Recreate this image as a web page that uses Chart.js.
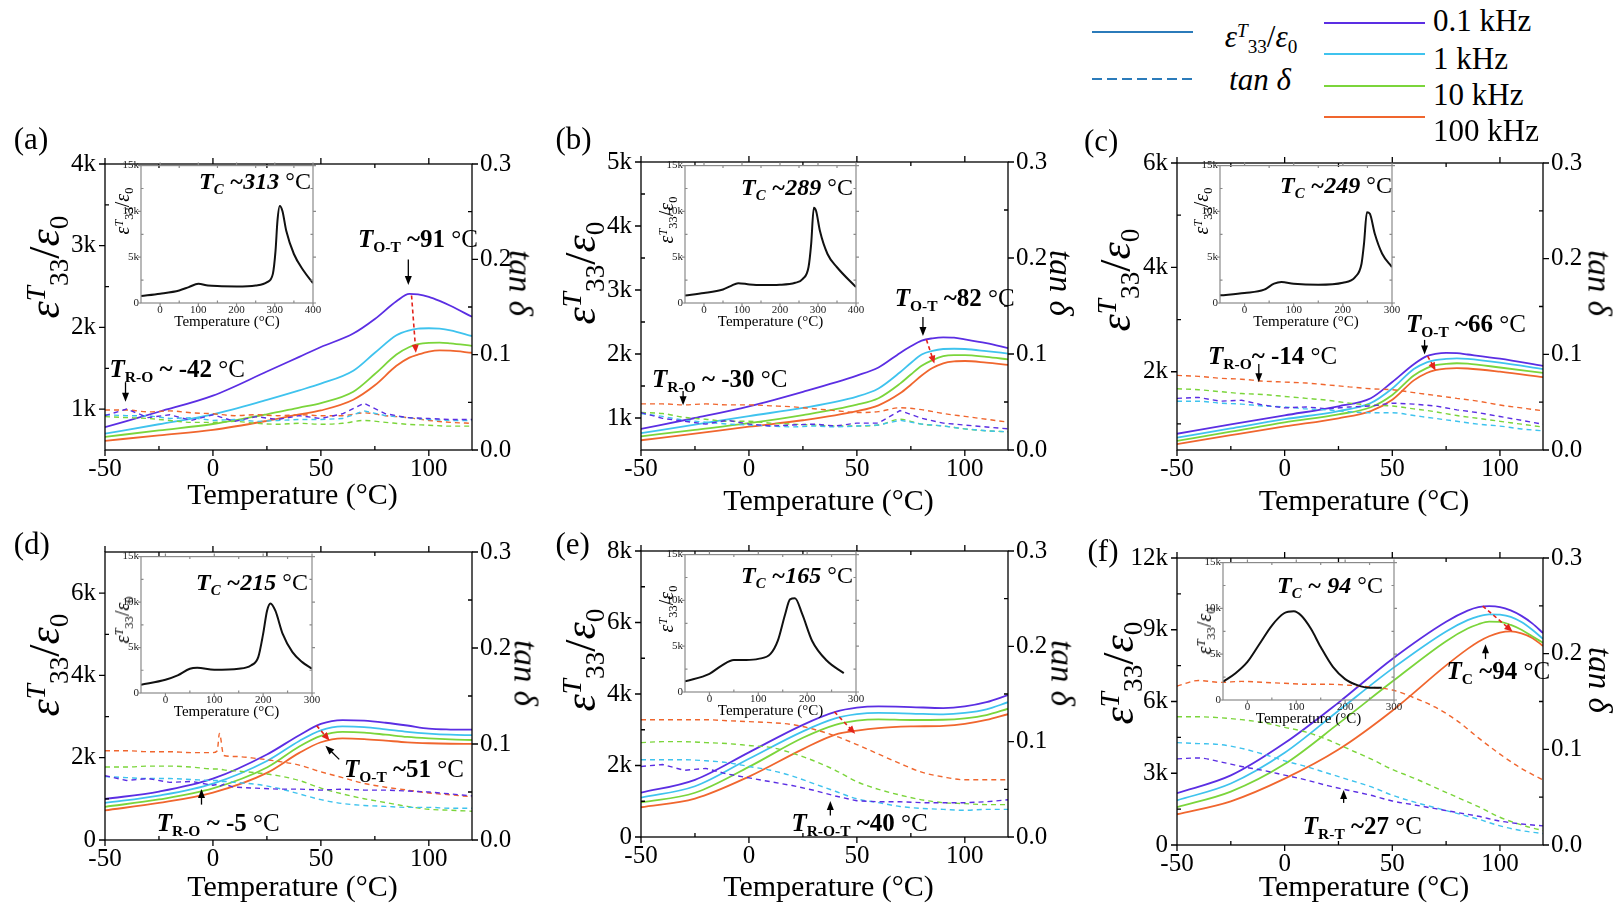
<!DOCTYPE html>
<html lang="en">
<head>
<meta charset="UTF-8">
<title>Dielectric permittivity and loss vs temperature</title>
<style>
  body { margin:0; width:1619px; height:912px; position:relative; overflow:hidden; background:#fff;
         font-family:'Liberation Serif','Times New Roman',serif; }
  canvas { position:absolute; }
  .txt { position:absolute; white-space:nowrap; line-height:1; color:#000; }
  .s { font-size:0.62em; position:relative; top:0.32em; }
  .p { font-size:0.62em; position:relative; top:-0.5em; font-style:italic; }
  .line { position:absolute; height:2px; }
</style>
</head>
<body>
<script src="https://cdn.jsdelivr.net/npm/chart.js"></script>
<script>
const FONT = "'Liberation Serif', 'Times New Roman', serif";
const freqLabels = ['0.1 kHz', '1 kHz', '10 kHz', '100 kHz'];
const freqColors = ['#5b2ee3', '#3fc3ee', '#7bd53b', '#f0662e'];
const tanT = [-50,-40,-30,-20,-10,0,10,20,30,40,50,60,70,80,90,100,110,120];

// (a)
const aT = [-50,-25,0,25,40,50,65,75,85,91,95,100,105,110,120];
const aEps01 = [780,968,1165,1460,1640,1760,1925,2103,2320,2410,2405,2375,2325,2265,2130];
const aEps1 = [700,815,937,1114,1230,1312,1470,1690,1905,1965,1985,1990,1985,1965,1895];
const aEps10 = [660,740,818,937,1020,1075,1213,1430,1668,1760,1795,1812,1815,1805,1775];
const aEps100 = [612,680,747,857,935,984,1115,1292,1530,1630,1668,1705,1720,1715,1690];
const aTan01 = [.036,.043,.034,.037,.031,.037,.030,.035,.032,.036,.033,.038,.049,.038,.034,.033,.032,.032];
const aTan1 = [.037,.036,.036,.033,.034,.031,.032,.030,.031,.032,.032,.033,.041,.036,.034,.032,.031,.031];
const aTan10 = [.035,.034,.033,.031,.029,.029,.030,.028,.027,.028,.027,.028,.031,.029,.027,.026,.025,.025];
const aTan100 = [.042,.042,.040,.041,.039,.038,.036,.037,.036,.037,.036,.036,.039,.036,.034,.031,.029,.028];
const aInT = [-50,0,50,75,100,125,150,200,250,280,295,302,307,313,320,330,350,375,400];
const aInEps = [759,1012,1373,1735,2096,1915,1843,1807,1915,2277,3180,5710,8963,10589,10047,7879,5349,3542,2168];

// (b)
const bT = [-50,-25,0,25,50,60,70,75,80,85,90,95,100,110,120];
const bEps01 = [829,1000,1183,1410,1663,1789,2017,2120,2209,2245,2260,2255,2229,2169,2093];
const bEps1 = [763,895,1031,1157,1334,1461,1714,1860,1992,2050,2078,2082,2078,2045,2007];
const bEps10 = [713,815,920,1046,1208,1309,1537,1680,1815,1905,1966,1982,1982,1955,1916];
const bEps100 = [652,755,864,965,1107,1198,1385,1520,1663,1780,1855,1885,1891,1865,1830];
const bTan01 = [.039,.033,.030,.027,.031,.027,.025,.026,.027,.025,.028,.028,.041,.033,.028,.026,.024,.022];
const bTan1 = [.038,.035,.031,.029,.027,.026,.025,.024,.025,.024,.025,.026,.031,.027,.025,.022,.020,.019];
const bTan10 = [.039,.038,.034,.032,.030,.030,.028,.027,.026,.025,.025,.026,.032,.027,.025,.022,.020,.019];
const bTan100 = [.048,.048,.047,.048,.047,.047,.046,.045,.043,.041,.039,.040,.044,.042,.038,.035,.032,.029];
const bInT = [-50,0,50,70,90,120,150,200,240,260,275,282,289,295,305,325,350,400];
const bInEps = [831,1084,1482,1843,2168,2024,1952,1988,2205,2638,3903,6433,10408,10047,7879,5349,3903,1735];

// (c)
const cT = [-50,-25,0,25,40,50,60,66,70,75,80,85,100,120];
const cEps01 = [811,990,1164,1338,1493,1803,2144,2299,2340,2361,2355,2330,2249,2113];
const cEps1 = [736,915,1090,1245,1400,1679,2051,2180,2224,2245,2255,2245,2174,2051];
const cEps10 = [674,850,1028,1183,1319,1555,1927,2070,2125,2150,2162,2155,2081,1976];
const cEps100 = [612,785,953,1108,1245,1462,1834,1975,2031,2060,2069,2062,2000,1895];
const cTan01 = [.054,.055,.051,.052,.047,.044,.045,.043,.045,.046,.049,.048,.046,.042,.039,.035,.031,.027];
const cTan1 = [.051,.051,.049,.048,.046,.045,.043,.042,.040,.039,.039,.036,.033,.030,.027,.025,.022,.020];
const cTan10 = [.064,.063,.061,.059,.058,.056,.054,.052,.049,.047,.046,.043,.040,.036,.033,.030,.027,.024];
const cTan100 = [.078,.077,.075,.074,.072,.071,.070,.068,.066,.064,.063,.060,.057,.054,.051,.047,.044,.041];
const cInT = [-50,0,40,60,75,100,150,200,225,238,243,249,255,265,280,300];
const cInEps = [835,1090,1453,2107,2288,2107,1998,2216,2833,4286,6465,9915,9734,7555,5375,3923];

// (d)
const dT = [-50,-25,0,25,40,50,60,70,80,90,100,110,120];
const dEps01 = [996,1176,1490,2078,2548,2822,2916,2901,2850,2783,2705,2685,2681];
const dEps1 = [902,1080,1372,1921,2407,2666,2760,2744,2690,2630,2587,2560,2548];
const dEps10 = [807,985,1254,1764,2274,2532,2626,2611,2560,2505,2470,2445,2430];
const dEps100 = [721,900,1152,1631,2117,2376,2470,2454,2415,2375,2352,2340,2336];
const dTanT = [-50,-40,-30,-20,-10,0,2,3,5,10,20,30,40,50,60,70,80,90,100,110,120];
const dTan01 = [.067,.062,.064,.060,.061,.057,.058,.056,.058,.055,.054,.053,.053,.052,.053,.052,.052,.051,.050,.048,.046];
const dTan1 = [.066,.065,.064,.064,.063,.062,.062,.061,.061,.060,.058,.054,.048,.042,.038,.036,.035,.034,.034,.033,.033];
const dTan10 = [.076,.076,.077,.077,.076,.074,.074,.074,.073,.072,.070,.067,.062,.054,.048,.043,.039,.035,.032,.031,.030];
const dTan100 = [.093,.093,.092,.092,.091,.091,.093,.111,.088,.087,.085,.082,.078,.071,.065,.059,.055,.052,.049,.047,.045];
const dInT = [-50,0,25,50,65,100,150,175,190,200,208,215,225,240,260,280,300];
const dInEps = [913,1460,1935,2665,2774,2555,2665,3030,3942,6497,9052,9855,9052,6497,4490,3395,2665];

// (e)
const eT = [-50,-25,0,25,40,50,60,75,90,100,110,120];
const eEps01 = [1238,1600,2368,3137,3498,3616,3652,3634,3607,3652,3770,3969];
const eEps1 = [1103,1419,2188,2956,3318,3435,3470,3453,3430,3470,3571,3770];
const eEps10 = [967,1238,1962,2775,3137,3254,3291,3273,3280,3318,3408,3589];
const eEps100 = [832,1076,1690,2459,2866,2974,3046,3092,3110,3164,3273,3435];
const eTan01 = [.074,.076,.070,.072,.066,.062,.058,.054,.049,.043,.038,.037,.037,.036,.036,.036,.037,.039];
const eTan1 = [.081,.081,.081,.080,.078,.074,.070,.064,.056,.048,.040,.036,.032,.030,.029,.028,.029,.029];
const eTan10 = [.099,.100,.100,.099,.098,.096,.094,.088,.080,.070,.058,.050,.044,.039,.036,.035,.034,.034];
const eTan100 = [.123,.123,.123,.123,.122,.121,.120,.118,.113,.106,.097,.087,.077,.068,.063,.060,.060,.060];
const eInT = [-50,0,25,50,75,100,125,140,155,165,175,190,210,240,275];
const eInEps = [1157,1988,2891,3506,3506,3614,4156,5602,8493,10119,10228,8493,5602,3433,2060];

// (f)
const fT = [-50,-25,0,25,50,75,85,90,95,100,105,110,115,120];
const fEps01 = [2165,2909,4262,5953,7780,9336,9800,9945,9985,9950,9809,9580,9268,8862];
const fEps1 = [1867,2571,3856,5615,7374,8930,9400,9560,9647,9630,9539,9320,8997,8619];
const fEps10 = [1583,2232,3383,5074,6833,8524,9050,9230,9336,9330,9201,9000,8727,8456];
const fEps100 = [1285,1827,2774,3991,5615,7509,8200,8500,8727,8880,8930,8850,8659,8321];
const fTan01 = [.090,.091,.087,.082,.078,.073,.068,.062,.057,.052,.046,.042,.038,.034,.030,.025,.022,.020];
const fTan1 = [.107,.106,.105,.101,.095,.088,.082,.075,.068,.061,.052,.045,.039,.033,.027,.020,.015,.012];
const fTan10 = [.134,.134,.133,.131,.128,.123,.118,.110,.100,.090,.079,.070,.060,.050,.040,.029,.021,.015];
const fTan100 = [.166,.172,.170,.171,.170,.169,.168,.168,.167,.165,.162,.154,.144,.130,.112,.095,.080,.068];
const fInT = [-50,-25,0,25,50,75,95,110,130,150,175,200,225,250,275];
const fInEps = [1988,2891,4156,6144,8132,9469,9686,9216,7770,5783,3614,2277,1626,1337,1337];

const T = (sub, val) => `<b><i>T</i><span class="s">${sub}</span>${val}</b> °C`;
const Tc = val => `<b><i>T<span class="s">C</span>${val}</i></b> °C`;

const panels = [
  { tag:'(a)', box:[105,155,367,295], yMin:500, yMax:4000, yTicks:[1000,2000,3000,4000],
    eT:aT, eps:[aEps01,aEps1,aEps10,aEps100], tT:tanT, tan:[aTan01,aTan1,aTan10,aTan100], rough:[0,1],
    inset:{ box:[141,164.5,172,138.5], xMax:400, xTicks:[0,100,200,300,400], T:aInT, eps:aInEps, titleAt:10000 },
    arrows:[ {from:[-40.5,1330], to:[-40.5,1090]}, {from:[90.5,2830], to:[90.5,2520]},
             {from:[92,2390], to:[94,1690], red:true} ],
    notes:[ [T('R-O',' ~ -42'),109.5,368,25], [T('O-T',' ~91'),358,238,25], [Tc(' ~313'),199,181,24] ],
    tagPos:[13.8,138], xTitleY:494, yTitle:[44.8,267], rTitle:[520,283] },
  { tag:'(b)', box:[641,153,367,297], yMin:500, yMax:5000, yTicks:[1000,2000,3000,4000,5000],
    eT:bT, eps:[bEps01,bEps1,bEps10,bEps100], tT:tanT, tan:[bTan01,bTan1,bTan10,bTan100], rough:[0,1],
    inset:{ box:[685,164.5,171,138.5], xMax:400, xTicks:[0,100,200,300,400], T:bInT, eps:bInEps, titleAt:9000 },
    arrows:[ {from:[-30.5,1420], to:[-30.5,1200]}, {from:[80.6,2580], to:[80.6,2280]},
             {from:[82.2,2225], to:[85.9,1850], red:true} ],
    notes:[ [T('R-O',' ~ -30'),652,378,25], [T('O-T',' ~82'),894.7,296.7,25], [Tc(' ~289'),741,187,24] ],
    tagPos:[555.5,138], xTitleY:500, yTitle:[581,273], rTitle:[1060,283] },
  { tag:'(c)', box:[1177,154,366,296], yMin:500, yMax:6000, yTicks:[2000,4000,6000],
    eT:cT, eps:[cEps01,cEps1,cEps10,cEps100], tT:tanT, tan:[cTan01,cTan1,cTan10,cTan100], rough:[0],
    inset:{ box:[1220,165,172,138], xMax:300, xTicks:[0,100,200,300], T:cInT, eps:cInEps, titleAt:10000 },
    arrows:[ {from:[-12,2150], to:[-12,1800]}, {from:[65,2610], to:[65,2330]},
             {from:[66.4,2300], to:[70.1,2025], red:true} ],
    notes:[ [T('R-O','~ -14'),1208,355,25], [T('O-T',' ~66'),1406,323,25], [Tc(' ~249'),1280,185,24] ],
    tagPos:[1084,140], xTitleY:500, yTitle:[1115.5,280], rTitle:[1598.7,283] },
  { tag:'(d)', box:[105,543,367,297], yMin:0, yMax:7000, yTicks:[0,2000,4000,6000],
    eT:dT, eps:[dEps01,dEps1,dEps10,dEps100], tT:dTanT, tan:[dTan01,dTan1,dTan10,dTan100], rough:[0],
    inset:{ box:[141,556,171,137], xMax:300, xTicks:[0,100,200,300], T:dInT, eps:dInEps, titleAt:8000 },
    arrows:[ {from:[-5.3,860], to:[-5.3,1240]}, {from:[58.5,1960], to:[52.1,2290]},
             {from:[48,2780], to:[54,2420], red:true} ],
    notes:[ [T('R-O',' ~ -5'),156.7,821.7,25], [T('O-T',' ~51'),344,768,25], [Tc(' ~215'),196,582,24] ],
    tagPos:[13.8,543], xTitleY:886, yTitle:[44.8,665], rTitle:[525,673] },
  { tag:'(e)', box:[641,542,367,295], yMin:0, yMax:8000, yTicks:[0,2000,4000,6000,8000],
    eT:eT, eps:[eEps01,eEps1,eEps10,eEps100], tT:tanT, tan:[eTan01,eTan1,eTan10,eTan100], rough:[0],
    inset:{ box:[685,553.5,171,138], xMax:300, xTicks:[0,100,200,300], T:eInT, eps:eInEps, titleAt:9000 },
    arrows:[ {from:[37.7,600], to:[37.7,1010]}, {from:[39.6,3500], to:[49.2,2890], red:true} ],
    notes:[ [T('R-O-T',' ~40'),791.4,821.7,25], [Tc(' ~165'),741,575,24] ],
    tagPos:[555.5,543], xTitleY:886, yTitle:[581,660], rTitle:[1061.7,673] },
  { tag:'(f)', box:[1177,549,366,296], yMin:0, yMax:12000, yTicks:[0,3000,6000,9000,12000],
    eT:fT, eps:[fEps01,fEps1,fEps10,fEps100], tT:tanT, tan:[fTan01,fTan1,fTan10,fTan100], rough:[],
    inset:{ box:[1223,562,171,138], xMax:300, xTicks:[0,100,200,300], T:fInT, eps:fInEps, titleAt:7500 },
    arrows:[ {from:[27.4,1760], to:[27.4,2300]}, {from:[93.3,7780], to:[93.3,8390]},
             {from:[92,9990], to:[105.8,8930], red:true} ],
    notes:[ [T('R-T',' ~27'),1302.8,825,25], [T('C',' ~94'),1446.4,670,25], [Tc(' ~ 94'),1277,585,24] ],
    tagPos:[1087.5,550], xTitleY:886, yTitle:[1119,673], rTitle:[1598.7,680] }
];

const pts = (xs, ys) => xs.map((x, i) => ({ x: x, y: ys[i] }));
const halfSteps = (ticks, min, max) => {
  const step = ticks[1] - ticks[0];
  const out = [ticks[0] - step / 2].concat(ticks.map(v => v + step / 2));
  return out.filter(v => v > min && v < max);
};

// axis frame with major ticks pointing out and minor ticks pointing in, plus arrows
const framePlugin = {
  id: 'frame',
  afterDatasetsDraw(chart, args, o) {
    const { ctx, chartArea: a, scales } = chart;
    ctx.save();
    ctx.strokeStyle = o.color;
    ctx.lineWidth = o.width;
    ctx.strokeRect(a.left, a.top, a.right - a.left, a.bottom - a.top);
    ctx.beginPath();
    const xTick = (v, len) => {
      const p = scales.x.getPixelForValue(v);
      ctx.moveTo(p, a.bottom); ctx.lineTo(p, a.bottom + len);
      ctx.moveTo(p, a.top); ctx.lineTo(p, a.top - len);
    };
    const yTick = (scale, v, len, side) => {
      const p = scale.getPixelForValue(v);
      if (side !== 'right') { ctx.moveTo(a.left, p); ctx.lineTo(a.left - len, p); }
      if (side !== 'left') { ctx.moveTo(a.right, p); ctx.lineTo(a.right + len, p); }
    };
    o.xMajor.forEach(v => xTick(v, o.major));
    o.xMinor.forEach(v => xTick(v, -o.minor));
    if (o.y2) {
      o.yMajor.forEach(v => yTick(scales.y, v, o.major, 'left'));
      o.yMinor.forEach(v => yTick(scales.y, v, -o.minor, 'left'));
      o.y2Major.forEach(v => yTick(scales.y2, v, o.major, 'right'));
      o.y2Minor.forEach(v => yTick(scales.y2, v, -o.minor, 'right'));
    } else {
      o.yMajor.forEach(v => yTick(scales.y, v, o.major));
      o.yMinor.forEach(v => yTick(scales.y, v, -o.minor));
    }
    ctx.stroke();

    (o.arrows || []).forEach(ar => {
      const x1 = scales.x.getPixelForValue(ar.from[0]), y1 = scales.y.getPixelForValue(ar.from[1]);
      const x2 = scales.x.getPixelForValue(ar.to[0]), y2 = scales.y.getPixelForValue(ar.to[1]);
      const col = ar.red ? '#e3231b' : '#000';
      const ang = Math.atan2(y2 - y1, x2 - x1);
      const hl = ar.red ? 8 : 9, hw = 3.5;
      ctx.strokeStyle = col; ctx.fillStyle = col;
      ctx.lineWidth = ar.red ? 1.6 : 1.3;
      ctx.setLineDash(ar.red ? [4, 3] : []);
      ctx.beginPath();
      ctx.moveTo(x1, y1);
      ctx.lineTo(x2 - Math.cos(ang) * hl * 0.8, y2 - Math.sin(ang) * hl * 0.8);
      ctx.stroke();
      ctx.setLineDash([]);
      ctx.beginPath();
      ctx.moveTo(x2, y2);
      ctx.lineTo(x2 - Math.cos(ang) * hl - Math.sin(ang) * hw, y2 - Math.sin(ang) * hl + Math.cos(ang) * hw);
      ctx.lineTo(x2 - Math.cos(ang) * hl + Math.sin(ang) * hw, y2 - Math.sin(ang) * hl - Math.cos(ang) * hw);
      ctx.closePath();
      ctx.fill();
    });
    ctx.restore();
  }
};

function makeCanvas(left, top, w, h) {
  const c = document.createElement('canvas');
  c.width = w; c.height = h;
  c.style.left = left + 'px'; c.style.top = top + 'px';
  c.style.width = w + 'px'; c.style.height = h + 'px';
  document.body.appendChild(c);
  return c.getContext('2d');
}

function text(html, x, y, size, opts) {
  opts = opts || {};
  const el = document.createElement('div');
  el.className = 'txt';
  el.innerHTML = html;
  el.style.left = x + 'px';
  el.style.top = y + 'px';
  el.style.fontSize = size + 'px';
  if (opts.color) el.style.color = opts.color;
  if (opts.italic) el.style.fontStyle = 'italic';
  const tx = opts.left ? '0' : '-50%';
  el.style.transform = `translate(${tx},-50%)` + (opts.rot ? ` rotate(${opts.rot}deg)` : '');
  document.body.appendChild(el);
}

const kLabel = v => v === 0 ? '0' : (v / 1000) + 'k';
const epsTitle = '<i>ε</i><span class="p">T</span><span class="s">33</span>/<i>ε</i><span class="s">0</span>';

panels.forEach(p => {
  const [L, Tp, W, H] = p.box;
  const ctx = makeCanvas(L - 80, Tp - 15, W + 150, H + 55);
  const datasets = [];
  p.tan.forEach((vals, i) => datasets.push({
    data: pts(p.tT, vals), yAxisID: 'y2', borderColor: freqColors[i], borderWidth: 1.4,
    borderDash: [5, 4], pointRadius: 0,
    cubicInterpolationMode: p.rough.includes(i) ? 'default' : 'monotone',
    tension: p.rough.includes(i) ? 0 : 0.4
  }));
  p.eps.forEach((vals, i) => datasets.push({
    data: pts(p.eT, vals), yAxisID: 'y', borderColor: freqColors[i], borderWidth: 1.8,
    pointRadius: 0, cubicInterpolationMode: 'monotone'
  }));
  const tickFont = { family: FONT, size: 25 };
  new Chart(ctx, {
    type: 'line',
    data: { datasets: datasets },
    options: {
      responsive: false, animation: false, devicePixelRatio: 1,
      layout: { padding: { top: 15, left: 0, right: 0, bottom: 0 } },
      plugins: {
        legend: { display: false }, tooltip: { enabled: false },
        frame: { color: '#000', width: 1.3, major: 6, minor: 4, y2: true,
                 xMajor: [-50, 0, 50, 100], xMinor: [-25, 25, 75],
                 yMajor: p.yTicks, yMinor: halfSteps(p.yTicks, p.yMin, p.yMax),
                 y2Major: [0, 0.1, 0.2, 0.3], y2Minor: [0.05, 0.15, 0.25], arrows: p.arrows }
      },
      scales: {
        x: { type: 'linear', min: -50, max: 120,
             grid: { display: false, drawTicks: false }, border: { display: false },
             afterFit: s => { s.height = 40; },
             afterBuildTicks: s => { s.ticks = [-50, 0, 50, 100].map(v => ({ value: v })); },
             ticks: { autoSkip: false, maxRotation: 0, padding: 4, font: tickFont, color: '#000',
                      callback: v => String(v) } },
        y: { type: 'linear', position: 'left', min: p.yMin, max: p.yMax,
             grid: { display: false, drawTicks: false }, border: { display: false },
             afterFit: s => { s.width = 80; },
             afterBuildTicks: s => { s.ticks = p.yTicks.map(v => ({ value: v })); },
             ticks: { autoSkip: false, padding: 9, font: tickFont, color: '#000', callback: kLabel } },
        y2: { type: 'linear', position: 'right', min: 0, max: 0.3,
              grid: { display: false, drawTicks: false }, border: { display: false },
              afterFit: s => { s.width = 70; },
              afterBuildTicks: s => { s.ticks = [0, 0.1, 0.2, 0.3].map(v => ({ value: v })); },
              ticks: { autoSkip: false, padding: 8, font: tickFont, color: '#000', callback: v => v.toFixed(1) } }
      }
    },
    plugins: [framePlugin]
  });

  // inset: full temperature sweep up to the Curie point
  const ins = p.inset;
  const [iL, iT, iW, iH] = ins.box;
  const ictx = makeCanvas(iL - 40, iT - 8, iW + 52, iH + 22);
  const iFont = { family: FONT, size: 11 };
  new Chart(ictx, {
    type: 'line',
    data: { datasets: [{ data: pts(ins.T, ins.eps), borderColor: '#111', borderWidth: 2,
                         pointRadius: 0, cubicInterpolationMode: 'monotone' }] },
    options: {
      responsive: false, animation: false, devicePixelRatio: 1,
      layout: { padding: { top: 8, left: 0, right: 12, bottom: 0 } },
      plugins: {
        legend: { display: false }, tooltip: { enabled: false },
        frame: { color: '#8a8a8a', width: 1.2, major: 3, minor: 2.5, y2: false,
                 xMajor: ins.xTicks, xMinor: ins.xTicks.map(v => v + 50).filter(v => v < ins.xMax),
                 yMajor: [0, 5000, 10000, 15000], yMinor: [2500, 7500, 12500] }
      },
      scales: {
        x: { type: 'linear', min: -50, max: ins.xMax,
             grid: { display: false, drawTicks: false }, border: { display: false },
             afterFit: s => { s.height = 14; },
             afterBuildTicks: s => { s.ticks = ins.xTicks.map(v => ({ value: v })); },
             ticks: { autoSkip: false, maxRotation: 0, padding: 1, font: iFont, color: '#222',
                      callback: v => String(v) } },
        y: { type: 'linear', position: 'left', min: 0, max: 15000,
             grid: { display: false, drawTicks: false }, border: { display: false },
             afterFit: s => { s.width = 40; },
             afterBuildTicks: s => { s.ticks = [0, 5000, 10000, 15000].map(v => ({ value: v })); },
             ticks: { autoSkip: false, padding: 2, font: iFont, color: '#222', callback: kLabel } }
      }
    },
    plugins: [framePlugin]
  });

  // titles and notes
  text(p.tag, p.tagPos[0], p.tagPos[1], 31, { left: true });
  text('Temperature (°C)', L + W / 2 + 4, p.xTitleY, 30);
  text(epsTitle, p.yTitle[0], p.yTitle[1], 44, { rot: -90 });
  text('tan δ', p.rTitle[0], p.rTitle[1], 33, { italic: true, rot: 90 });
  text('Temperature (°C)', iL + iW / 2, iT + iH + 18, 15);
  text(epsTitle, iL - 19, iT + iH * (1 - ins.titleAt / 15000), 20, { rot: -90 });
  p.notes.forEach(n => text(n[0], n[1], n[2], n[3], { left: true }));
});

// legend
function legendLine(x, y, w, color, dashed) {
  const el = document.createElement('div');
  el.className = 'line';
  el.style.left = x + 'px'; el.style.top = (y - 1) + 'px'; el.style.width = w + 'px';
  el.style.background = dashed
    ? `repeating-linear-gradient(90deg, ${color} 0 10px, transparent 10px 15px)`
    : color;
  document.body.appendChild(el);
}
legendLine(1092, 31.7, 101, '#2b7bba', false);
legendLine(1092, 79, 101, '#2b7bba', true);
text(epsTitle, 1261, 36, 31);
text('tan δ', 1260, 79, 31, { italic: true });
const legendY = [23.3, 54.3, 86, 116.7];
const legendTextY = [20, 58, 94, 130];
freqLabels.forEach((f, i) => {
  legendLine(1324, legendY[i], 101, freqColors[i], false);
  text(f, 1433, legendTextY[i], 31, { left: true });
});
</script>
</body>
</html>
